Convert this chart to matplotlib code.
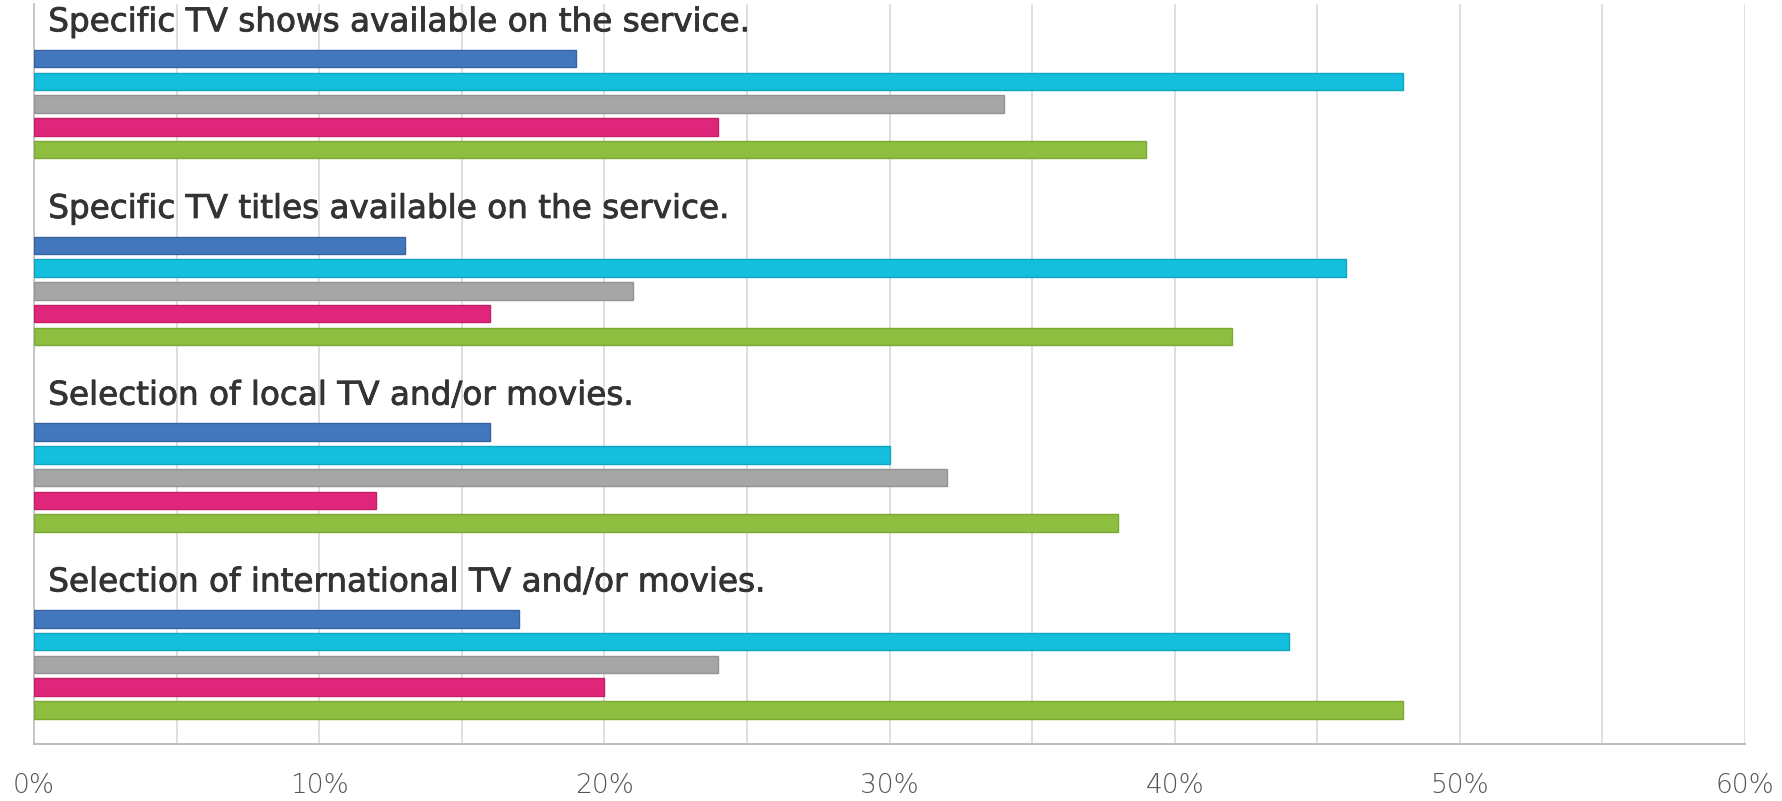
import numpy as np
import matplotlib.pyplot as plt
import matplotlib.patheffects as pe

# categories (top to bottom) and per-segment values in percent
categories = [
    'Specific TV shows available on the service.',
    'Specific TV titles available on the service.',
    'Selection of local TV and/or movies.',
    'Selection of international TV and/or movies.',
]
blue = [19, 13, 16, 17]
cyan = [48, 46, 30, 44]
gray = [34, 21, 32, 24]
pink = [24, 16, 12, 20]
green = [39, 42, 38, 48]

series = [blue, cyan, gray, pink, green]
colors = ['#4277BD', '#14BFDD', '#A6A6A6', '#E0267A', '#8EBE3F']
edges = ['#36649F', '#0FA5BF', '#939393', '#C51F68', '#7CA835']

xtick_labels = ['0%', '10%', '20%', '30%', '40%', '50%', '60%']

plt.rcParams['font.family'] = ['DejaVu Sans']

fig = plt.figure(figsize=(17.82, 8.01), dpi=100)
ax = fig.add_axes([34 / 1782, 57 / 801, (1745 - 34) / 1782, (801 - 57 - 4) / 801])

group_gap = 8.2
for g, cat in enumerate(categories):
    base = g * group_gap
    for i, vals in enumerate(series):
        ax.barh(base + i, vals[g], height=0.77, color=colors[i],
                edgecolor=edges[i], linewidth=1.0, zorder=3)
    ax.text(0.5, base - 1.62, cat, fontsize=23.5, color='#333333',
            va='center', ha='left', zorder=4,
            path_effects=[pe.withStroke(linewidth=0.6, foreground='#333333')])

ax.set_xlim(0, 60)
ax.set_ylim(30.1, -2.4)
ax.grid(axis='x', color='#D9D9D9', linewidth=1.2, zorder=0)
ax.set_yticks([])
ax.set_xticks(np.arange(0, 61, 5))
labels = []
for t in range(0, 61, 5):
    labels.append(xtick_labels[t // 10] if t % 10 == 0 else '')
ax.set_xticklabels(labels)
ax.tick_params(axis='x', length=0, pad=21, labelsize=19, labelcolor='#555555')
for lbl in ax.get_xticklabels():
    lbl.set_fontweight('light')

for s in ['top', 'right']:
    ax.spines[s].set_visible(False)
ax.spines['left'].set_color('#BFBFBF')
ax.spines['left'].set_linewidth(1.2)
ax.spines['bottom'].set_color('#BFBFBF')
ax.spines['bottom'].set_linewidth(1.5)

fig.savefig('out.png', dpi=100, facecolor='white')
